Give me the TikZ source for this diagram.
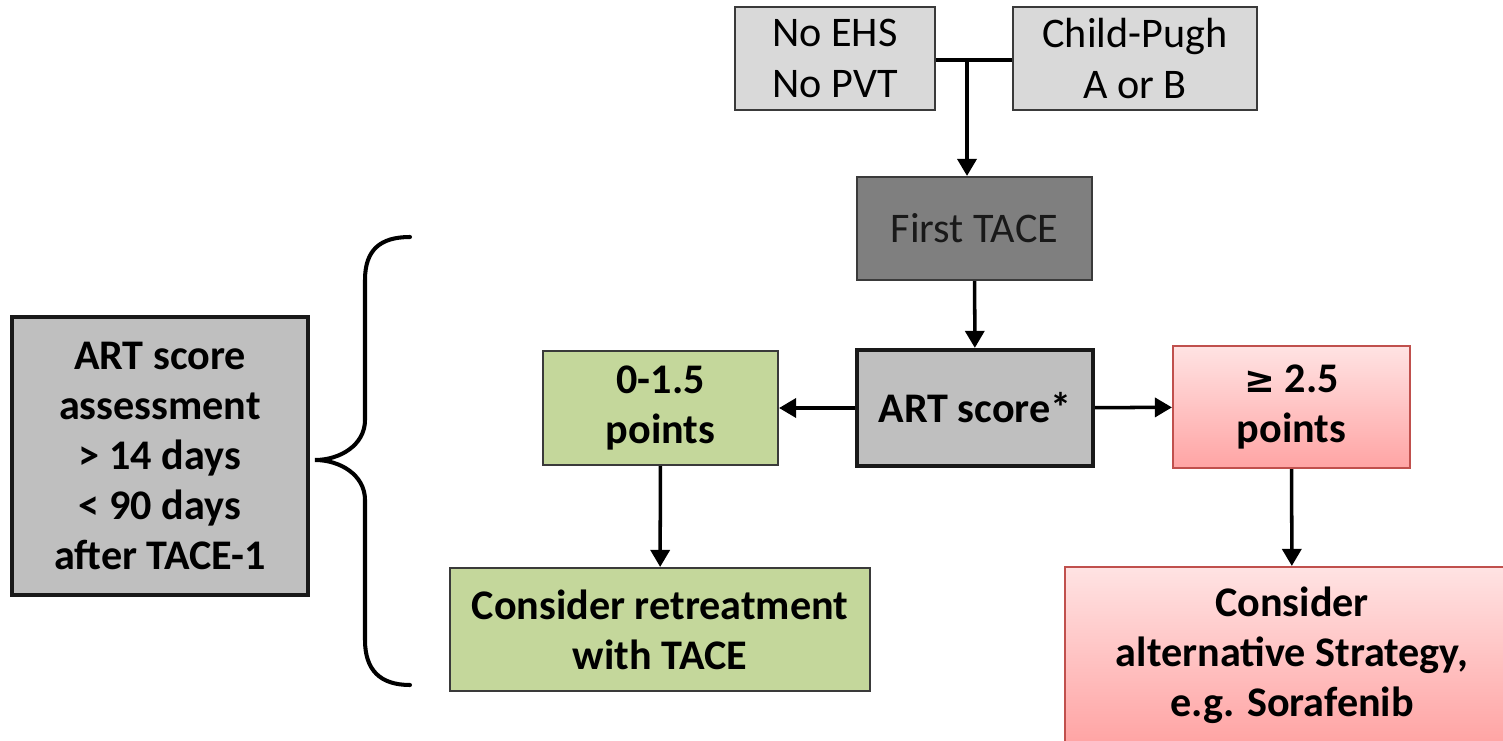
\documentclass[tikz,border=0pt]{standalone}
\usepackage{fontspec}
\setmainfont{Carlito}
\usetikzlibrary{arrows.meta}
\definecolor{boxline}{HTML}{3A3A3A}
\definecolor{lightgrey}{HTML}{D9D9D9}
\definecolor{midgrey}{HTML}{BFBFBF}
\definecolor{darkgrey}{HTML}{7F7F7F}
\definecolor{leafgreen}{HTML}{C4D79B}
\definecolor{rosetop}{HTML}{FFE3E3}
\definecolor{rosebot}{HTML}{FFA4A4}
\definecolor{roseline}{HTML}{C0504D}
\begin{document}
\begin{tikzpicture}[
  every node/.style={font=\fontsize{24}{28.5}\selectfont, align=center, inner sep=0pt},
  box/.style={draw=boxline, line width=1.2pt, rectangle},
  heavybox/.style={draw=black!90, line width=2.4pt, rectangle, fill=midgrey, font=\fontsize{24}{28.5}\selectfont\bfseries},
  greenbox/.style={box, fill=leafgreen, font=\fontsize{24}{28.5}\selectfont\bfseries},
  rosebox/.style={draw=roseline, line width=1.2pt, rectangle, top color=rosetop, bottom color=rosebot, font=\fontsize{24}{28.5}\selectfont\bfseries},
  link/.style={line width=2pt, -{Triangle[length=0.34cm, width=0.38cm]}}
]
\useasboundingbox (0,0) rectangle (30.06,-14.82);

% entry conditions
\node[box, fill=lightgrey, minimum width=4cm, minimum height=2.06cm] (noehs) at (16.7,-1.17) {No EHS\\No PVT};
\node[box, fill=lightgrey, minimum width=4.88cm, minimum height=2.06cm] (childpugh) at (22.7,-1.17) {Child-Pugh\\A or B};
\node[box, fill=darkgrey, text=black!90, minimum width=4.7cm, minimum height=2.06cm] (firsttace) at (19.49,-4.57) {First TACE};

% score and outcomes
\node[heavybox, minimum width=4.72cm, minimum height=2.32cm] (artscore) at (19.5,-8.16) {ART score*};
\node[greenbox, minimum width=4.7cm, minimum height=2.28cm] (low) at (13.21,-8.16) {0-1.5\\points};
\node[rosebox, minimum width=4.74cm, minimum height=2.44cm] (high) at (25.83,-8.14) {\fontspec{DejaVu Sans}\bfseries\fontsize{21}{28.5}\selectfont ≥\fontspec{Carlito}\bfseries\fontsize{24}{28.5}\selectfont{} 2.5\\points};
\node[greenbox, minimum width=8.4cm, minimum height=2.46cm] (retreat) at (13.2,-12.59) {Consider retreatment\\with TACE};
\node[rosebox, minimum width=9.08cm, minimum height=3.52cm] (alternative) at (25.84,-13.1) {Consider\\alternative Strategy,\\e.g. Sorafenib};

% timing box with brace
\node[heavybox, minimum width=5.92cm, minimum height=5.56cm] (assess) at (3.2,-9.12) {ART score\\assessment\\> 14 days\\< 90 days\\after TACE-1};
\draw[line width=2.3pt, line cap=round] (8.2,-4.74)
  .. controls (7.6,-4.74) and (7.3,-5.0) .. (7.3,-5.6) -- (7.3,-8.4)
  .. controls (7.3,-8.9) and (6.8,-9.2) .. (6.3,-9.2)
  .. controls (6.8,-9.2) and (7.3,-9.5) .. (7.3,-10.0) -- (7.3,-12.8)
  .. controls (7.3,-13.4) and (7.6,-13.7) .. (8.2,-13.7);

% connectors
\coordinate (join) at (19.34,-1.2);
\draw[line width=2pt] (noehs.east |- join) -- (childpugh.west |- join);
\draw[link] (join) -- (join |- firsttace.north);
\draw[link] (firsttace) -- (artscore);
\draw[link] (artscore) -- (low);
\draw[link] (artscore) -- (high);
\draw[link] (low) -- (retreat);
\draw[link] (high) -- (alternative);
\end{tikzpicture}
\end{document}
